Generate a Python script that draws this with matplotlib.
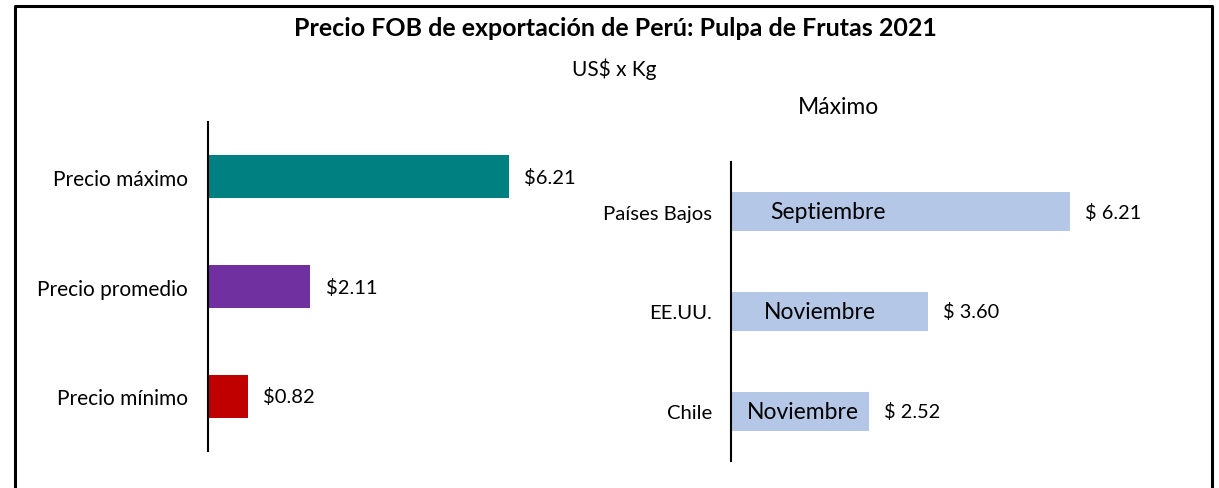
import matplotlib.pyplot as plt
from matplotlib.lines import Line2D

# data
summary_labels = ["Precio máximo", "Precio promedio", "Precio mínimo"]
summary_values = [6.21, 2.11, 0.82]
summary_colors = ["#008080", "#7030a0", "#c00000"]

country_labels = ["Países Bajos", "EE.UU.", "Chile"]
country_values = [6.21, 3.60, 2.52]
country_months = ["Septiembre", "Noviembre", "Noviembre"]

plt.rcParams['font.family'] = ['Lato', 'DejaVu Sans']

W, H = 1219, 489
fig = plt.figure(figsize=(W / 100, H / 100), dpi=100)


def px_axes(x0, y0, x1, y1):
    # pixel box (top-left origin) -> figure axes
    return fig.add_axes([x0 / W, 1 - y1 / H, (x1 - x0) / W, (y1 - y0) / H])


def clean(ax, size, pad):
    for s in ["top", "right", "bottom"]:
        ax.spines[s].set_visible(False)
    ax.spines["left"].set_linewidth(1.5)
    ax.spines["left"].set_color("black")
    ax.tick_params(axis="y", length=0, pad=pad, labelsize=size)
    ax.set_xticks([])


# left chart
ax1 = px_axes(208, 123, 590, 452)
ypos = range(len(summary_values))
ax1.barh(ypos, summary_values, height=0.39, color=summary_colors)
ax1.set_ylim(2.5, -0.5)
ax1.set_xlim(0, 382 / 48.5)
ax1.set_yticks(list(ypos))
ax1.set_yticklabels(summary_labels)
clean(ax1, 15, 14.5)
for i, v in enumerate(summary_values):
    ax1.annotate(f"${v:.2f}", (v, i), xytext=(11, 0), textcoords="offset points",
                 va="center", ha="left", fontsize=14.5)

# right chart
ax2 = px_axes(731, 163, 1200, 462)
ypos = range(len(country_values))
ax2.barh(ypos, country_values, height=0.39, color="#b4c7e7")
ax2.set_ylim(2.5, -0.5)
ax2.set_xlim(0, 469 / 54.6)
ax2.set_yticks(list(ypos))
ax2.set_yticklabels(country_labels)
clean(ax2, 14.6, 13.5)
month_x = [1.78, 1.63, 1.32]
for i, v in enumerate(country_values):
    ax2.annotate(f"$ {v:.2f}", (v, i), xytext=(11, 0), textcoords="offset points",
                 va="center", ha="left", fontsize=14.3)
    ax2.text(month_x[i], i, country_months[i], va="center", ha="center", fontsize=16.5)

# titles
fig.text(615 / W, 1 - 28 / H, "Precio FOB de exportación de Perú: Pulpa de Frutas 2021",
         ha="center", va="center", fontsize=18, fontweight="bold")
fig.text(614 / W, 1 - 69 / H, "US$ x Kg", ha="center", va="center", fontsize=15)
fig.text(838 / W, 1 - 108 / H, "Máximo", ha="center", va="center", fontsize=16.5)

# frame (bottom edge is cut off)
fig.add_artist(Line2D([15 / W, 15 / W, 1212 / W, 1212 / W], [0, 1 - 6.5 / H, 1 - 6.5 / H, 0],
                      transform=fig.transFigure, color="black", lw=2.2))

fig.savefig("out.png", dpi=100)
